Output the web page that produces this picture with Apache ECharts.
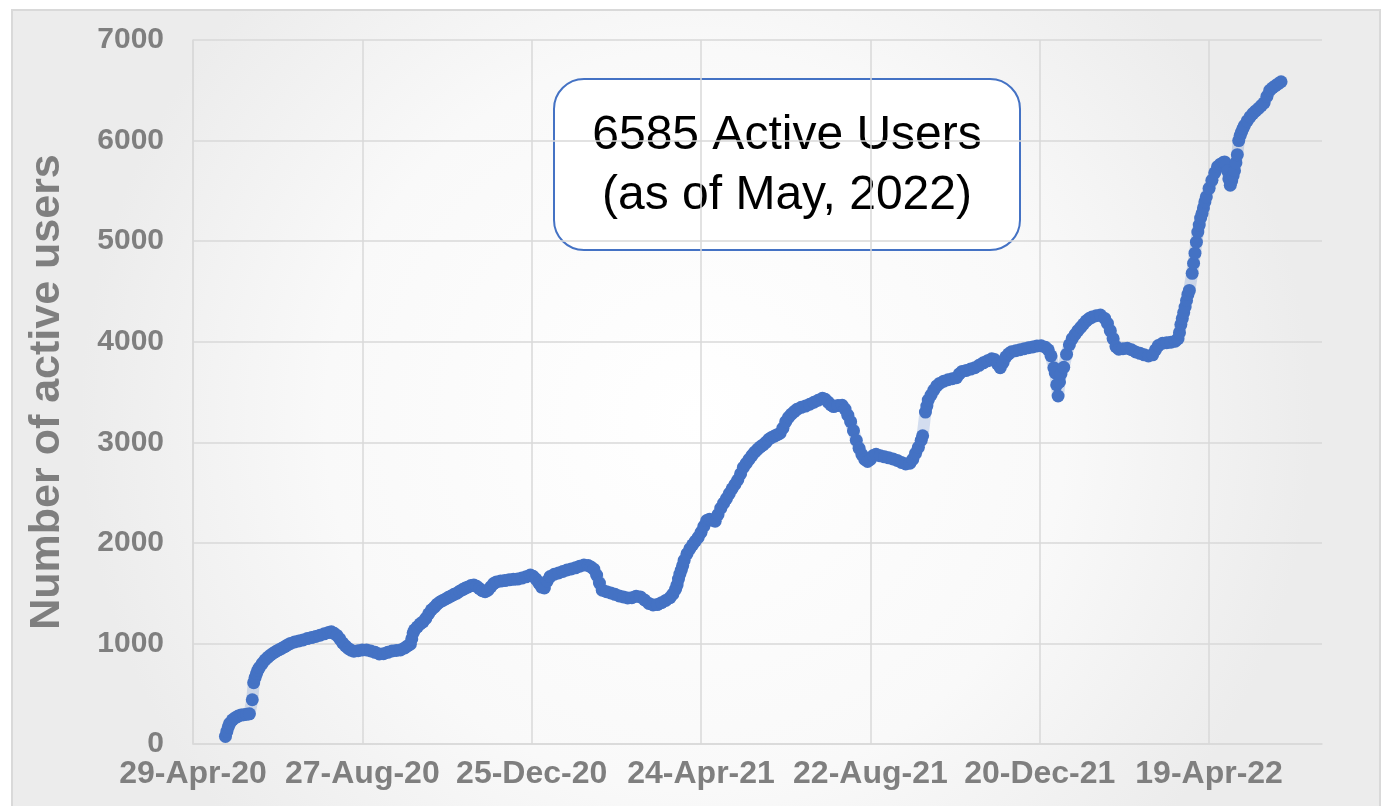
<!DOCTYPE html>
<html>
<head>
<meta charset="utf-8">
<title>Active users</title>
<script src="https://cdn.jsdelivr.net/npm/echarts@6/dist/echarts.min.js"></script>
<style>
  html, body { margin: 0; padding: 0; background: #fff; }
  #main { width: 1383px; height: 806px; }
</style>
</head>
<body>
<div id="main"></div>
<script>
// x values are days counted from 29-Apr-20 (the first axis tick)
const startDate = Date.UTC(2020, 3, 29);
const xTicks = [0, 120, 240, 360, 480, 600, 720];
const yTicks = [0, 1000, 2000, 3000, 4000, 5000, 6000, 7000];
const monthNames = ['Jan', 'Feb', 'Mar', 'Apr', 'May', 'Jun', 'Jul', 'Aug', 'Sep', 'Oct', 'Nov', 'Dec'];

const days = [
  23, 24, 25, 26, 28, 30, 32, 34, 36, 38, 40,
  42,
  43, 44, 45, 46, 47, 49, 51, 53, 55, 57, 59, 61, 63, 65, 67, 69, 72, 75, 78, 81, 84, 87, 90, 93, 96, 98,
  100, 102, 104, 106, 108, 110, 112, 114, 117, 120, 123, 126, 129, 132, 135, 138, 141, 144, 147, 150, 152, 154,
  155, 156, 157, 159, 161, 163, 165, 167, 169, 171, 173, 175, 177, 179, 181, 183, 185, 187, 189, 191, 193, 195, 197, 199,
  201, 203, 205, 207, 209, 211, 213, 215, 218, 221, 224, 227, 230, 233, 236, 239, 241, 243, 245, 247, 249,
  251, 253, 256, 259, 262, 265, 268, 271, 274, 277, 280, 282, 284, 286, 288, 290, 293, 296, 299,
  302, 305, 308, 311, 314, 317, 320, 323, 326, 329, 332, 335, 338, 340, 342, 343, 344, 345, 346, 347, 348,
  350, 352, 354, 356, 358, 360, 362, 364, 366, 368, 370, 372, 374, 376, 378, 380, 382, 384, 386, 388, 390,
  392, 394, 396, 398, 400, 402, 404, 406, 408, 410, 412, 414, 416, 418, 420, 422, 424, 426, 428, 431, 434,
  437, 440, 443, 446, 448, 450, 452, 454, 457, 460, 462, 464, 466, 468, 470, 472, 474, 476, 478, 480,
  482, 484, 487, 490, 493, 496, 499, 502, 505, 508, 510, 512, 514, 516, 517,
  519, 520, 521, 523, 525, 527, 529, 532, 535, 538, 541, 543, 545, 548, 551, 554, 557, 560, 563, 566, 568,
  570, 572, 574, 576, 578, 580, 583, 586, 589, 592, 595, 598, 601, 604, 606, 608, 610, 611, 612, 613, 614,
  615, 617, 619, 621, 623, 625, 627, 629, 631, 633, 635, 637, 640, 643, 646, 648, 650, 652, 654, 656, 659,
  662, 665, 668, 671, 674, 677, 680, 682, 684, 687, 690, 693, 696, 698, 699, 700, 701, 702, 703, 704, 705, 706,
  708, 709, 710, 711, 712, 713, 714, 715, 716, 717, 718, 720, 722, 724, 726, 728, 730, 731, 732, 733, 734, 735,
  736, 737, 738, 739, 740, 741, 742, 743, 744, 745, 747, 749, 751, 753, 755, 757, 759, 761, 763, 765, 767, 769, 771
];

const users = [
  75, 125, 170, 205, 240, 262, 278, 288, 292, 295, 300,
  440,
  610, 660, 700, 735, 760, 800, 835, 862, 885, 905, 922, 938, 952, 968, 985, 1000, 1015, 1025, 1035, 1048, 1058, 1070, 1082, 1095, 1108, 1115,
  1100, 1080, 1045, 1005, 975, 950, 932, 922, 928, 935, 935, 925, 912, 895, 898, 912, 925, 930, 935, 955, 975, 992,
  1045, 1105, 1135, 1165, 1195, 1215, 1250, 1295, 1335, 1360, 1390, 1412, 1428, 1442, 1458, 1472, 1488, 1500, 1520, 1535, 1550, 1562, 1575, 1580,
  1568, 1545, 1525, 1515, 1530, 1562, 1595, 1612, 1620, 1625, 1632, 1637, 1640, 1650, 1662, 1680, 1668, 1640, 1600, 1560, 1552,
  1620, 1665, 1688, 1700, 1715, 1730, 1740, 1752, 1768, 1780, 1775, 1760, 1738, 1680, 1600, 1530, 1515, 1502, 1488,
  1472, 1462, 1452, 1455, 1470, 1462, 1432, 1398, 1382, 1386, 1405, 1428, 1455, 1490, 1540, 1580, 1640, 1690, 1730, 1775, 1825,
  1890, 1940, 1980, 2018, 2055, 2105, 2165, 2222, 2235, 2225, 2215, 2280, 2345, 2395, 2440, 2490, 2538, 2580, 2625, 2685, 2750,
  2790, 2830, 2868, 2902, 2930, 2955, 2975, 3000, 3030, 3048, 3062, 3076, 3090, 3140, 3205, 3248, 3280, 3305, 3328, 3348, 3360,
  3378, 3398, 3418, 3438, 3428, 3400, 3372, 3355, 3365, 3368, 3330, 3270, 3205, 3115, 3020, 2940, 2878, 2830, 2810, 2830,
  2868, 2880, 2865, 2855, 2845, 2835, 2820, 2800, 2785, 2792, 2830, 2890, 2950, 3020, 3065,
  3300, 3360, 3420, 3470, 3520, 3560, 3585, 3608, 3622, 3632, 3642, 3680, 3705, 3715, 3728, 3742, 3765, 3790, 3810, 3830, 3822,
  3780, 3742, 3792, 3850, 3880, 3900, 3910, 3920, 3930, 3940, 3948, 3958, 3960, 3945, 3920, 3860, 3740, 3690, 3570, 3460, 3600,
  3680, 3745, 3875, 3970, 4030, 4072, 4110, 4142, 4175, 4208, 4230, 4245, 4258, 4265, 4232, 4182, 4110, 4030, 3952, 3925, 3930,
  3935, 3920, 3898, 3885, 3870, 3858, 3870, 3918, 3962, 3985, 3990, 3995, 4005, 4030, 4090, 4170, 4230, 4290, 4345, 4410, 4470, 4510,
  4680, 4780, 4880, 4990, 5090, 5160, 5230, 5275, 5330, 5390, 5440, 5525, 5605, 5680, 5740, 5765, 5782, 5788, 5760, 5700, 5620, 5556,
  5600, 5650, 5700, 5780, 5860, 6000, 6050, 6085, 6120, 6150, 6195, 6235, 6268, 6295, 6320, 6348, 6375, 6440, 6500, 6525, 6545, 6565, 6585
];

const boxLines = ['6585 Active Users', '(as of May, 2022)'];

function dayLabel(v) {
  const d = new Date(startDate + v * 86400000);
  const yy = String(d.getUTCFullYear()).slice(2);
  return d.getUTCDate() + '-' + monthNames[d.getUTCMonth()] + '-' + yy;
}

const chart = echarts.init(document.getElementById('main'), null, { renderer: 'canvas' });

const gray = '#7f7f7f';
const gridGray = '#d9d9d9';
const font = "'Liberation Sans', Arial, Helvetica, sans-serif";

const option = {
  animation: false,
  backgroundColor: '#ffffff',
  textStyle: { fontFamily: font },
  graphic: [
    {
      type: 'rect',
      z: -100,
      silent: true,
      shape: { x: 12, y: 10, width: 1368, height: 820 },
      style: {
        fill: {
          type: 'radial', x: 0.5, y: 0.5, r: 0.75,
          colorStops: [
            { offset: 0, color: '#ffffff' },
            { offset: 0.6, color: '#f9f9f9' },
            { offset: 1, color: '#ececec' }
          ]
        },
        stroke: '#d9d9d9',
        lineWidth: 2
      }
    },
    {
      type: 'group',
      z: 100,
      children: [
        {
          type: 'rect',
          shape: { x: 554, y: 79, width: 466, height: 171, r: 30 },
          style: { fill: '#ffffff', stroke: '#4472C4', lineWidth: 2 }
        },
        {
          type: 'text',
          x: 787, y: 166,
          style: {
            text: boxLines.join('\n'),
            font: '48px ' + font,
            fill: '#000000',
            align: 'center',
            verticalAlign: 'middle',
            lineHeight: 60
          }
        }
      ]
    }
  ],
  grid: { left: 193, right: 61, top: 40, bottom: 62, containLabel: false },
  xAxis: {
    type: 'value',
    min: xTicks[0],
    max: 800,
    interval: xTicks[1] - xTicks[0],
    axisLine: { show: true, lineStyle: { color: gridGray, width: 1.5 } },
    axisTick: { show: false },
    splitLine: { show: true, showMaxLine: false, lineStyle: { color: gridGray, width: 1.5 } },
    axisLabel: {
      showMaxLabel: false,
      margin: 14,
      color: gray,
      fontSize: 32,
      fontWeight: 'bold',
      fontFamily: font,
      formatter: function (v) { return xTicks.indexOf(v) >= 0 ? dayLabel(v) : ''; }
    }
  },
  yAxis: {
    type: 'value',
    min: yTicks[0],
    max: yTicks[yTicks.length - 1],
    interval: yTicks[1] - yTicks[0],
    name: 'Number of active users',
    nameLocation: 'middle',
    nameGap: 124,
    nameTextStyle: { color: gray, fontSize: 43, fontWeight: 'bold', fontFamily: font },
    axisLine: { show: true, lineStyle: { color: gridGray, width: 1.5 } },
    axisTick: { show: false },
    splitLine: { show: true, lineStyle: { color: gridGray, width: 1.5 } },
    axisLabel: {
      margin: 29, color: gray, fontSize: 30, fontWeight: 'bold', fontFamily: font,
      formatter: function (v) { return String(v); }
    }
  },
  series: [{
    name: 'Active users',
    type: 'line',
    data: days.map(function (d, i) { return [d, users[i]]; }),
    symbol: 'circle',
    symbolSize: 13,
    showSymbol: true,
    itemStyle: { color: '#4472C4' },
    lineStyle: { color: 'rgba(68,114,196,0.22)', width: 12 },
    z: 5
  }]
};

chart.setOption(option);
</script>
</body>
</html>
